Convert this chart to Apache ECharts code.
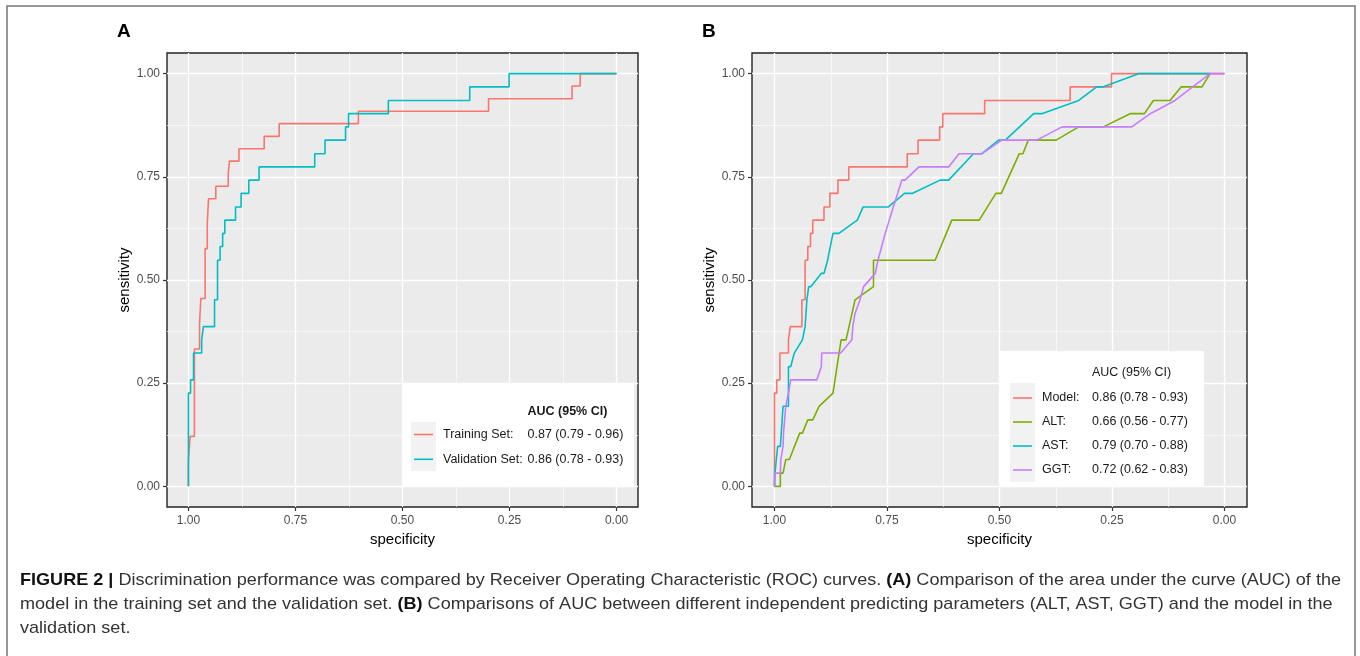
<!DOCTYPE html>
<html>
<head>
<meta charset="utf-8">
<script src="https://cdn.jsdelivr.net/npm/echarts@6/dist/echarts.min.js"></script>
<style>
  html, body { margin: 0; padding: 0; background: #fff; }
  #chart { width: 1360px; height: 656px; }
</style>
</head>
<body>
<div id="chart"></div>
<script>
// ticks shared by both panels
const tickValues = [0, 0.25, 0.5, 0.75, 1];
const minorValues = [0.125, 0.375, 0.625, 0.875];
const tickLabels = ['0.00', '0.25', '0.50', '0.75', '1.00'];

// panel A - training set
const trainSpec = [1, 1, 0.996, 0.996, 0.986, 0.986, 0.974, 0.974, 0.971, 0.971, 0.961, 0.961, 0.956, 0.956, 0.953, 0.953, 0.936, 0.936, 0.907, 0.907, 0.904, 0.904, 0.882, 0.882, 0.823, 0.823, 0.788, 0.788, 0.603, 0.603, 0.299, 0.299, 0.104, 0.104, 0.085, 0.085, 0];
const trainSens = [0, 0.061, 0.061, 0.121, 0.121, 0.333, 0.333, 0.394, 0.394, 0.455, 0.455, 0.576, 0.576, 0.636, 0.636, 0.697, 0.697, 0.727, 0.727, 0.758, 0.758, 0.788, 0.788, 0.818, 0.818, 0.848, 0.848, 0.879, 0.879, 0.909, 0.909, 0.939, 0.939, 0.970, 0.970, 1, 1];

// panel A - validation set (same curve is the "Model" line in panel B)
const validSpec = [1, 1, 0.995, 0.995, 0.988, 0.988, 0.969, 0.969, 0.965, 0.965, 0.939, 0.939, 0.932, 0.932, 0.926, 0.926, 0.920, 0.920, 0.915, 0.915, 0.890, 0.890, 0.877, 0.877, 0.859, 0.859, 0.835, 0.835, 0.705, 0.705, 0.681, 0.681, 0.633, 0.633, 0.626, 0.626, 0.533, 0.533, 0.343, 0.343, 0.251, 0.251, 0];
const validSens = [0, 0.226, 0.226, 0.258, 0.258, 0.323, 0.323, 0.355, 0.355, 0.387, 0.387, 0.452, 0.452, 0.548, 0.548, 0.581, 0.581, 0.613, 0.613, 0.645, 0.645, 0.677, 0.677, 0.710, 0.710, 0.742, 0.742, 0.774, 0.774, 0.806, 0.806, 0.839, 0.839, 0.871, 0.871, 0.903, 0.903, 0.935, 0.935, 0.968, 0.968, 1, 1];

// panel B - single markers
const altSpec = [1, 0.987, 0.987, 0.981, 0.975, 0.967, 0.944, 0.938, 0.926, 0.915, 0.901, 0.870, 0.852, 0.841, 0.821, 0.780, 0.780, 0.643, 0.606, 0.545, 0.508, 0.496, 0.456, 0.448, 0.436, 0.374, 0.324, 0.269, 0.210, 0.178, 0.158, 0.121, 0.096, 0.050, 0.032];
const altSens = [0, 0, 0.032, 0.032, 0.065, 0.065, 0.129, 0.129, 0.161, 0.161, 0.194, 0.226, 0.355, 0.355, 0.452, 0.484, 0.548, 0.548, 0.645, 0.645, 0.710, 0.710, 0.806, 0.806, 0.839, 0.839, 0.871, 0.871, 0.903, 0.903, 0.935, 0.935, 0.968, 0.968, 1];

const astSpec = [1, 0.999, 0.993, 0.987, 0.981, 0.969, 0.969, 0.964, 0.956, 0.938, 0.932, 0.928, 0.924, 0.919, 0.896, 0.890, 0.882, 0.870, 0.857, 0.816, 0.803, 0.747, 0.711, 0.693, 0.632, 0.613, 0.558, 0.539, 0.502, 0.487, 0.424, 0.406, 0.324, 0.284, 0.269, 0.191, 0.032];
const astSens = [0, 0.032, 0.097, 0.097, 0.194, 0.194, 0.290, 0.290, 0.323, 0.355, 0.387, 0.452, 0.484, 0.484, 0.516, 0.516, 0.548, 0.613, 0.613, 0.645, 0.677, 0.677, 0.710, 0.710, 0.742, 0.742, 0.806, 0.806, 0.839, 0.839, 0.903, 0.903, 0.935, 0.968, 0.968, 1, 1];

const ggtSpec = [1, 1, 0.987, 0.986, 0.981, 0.980, 0.976, 0.975, 0.969, 0.964, 0.906, 0.896, 0.895, 0.853, 0.828, 0.826, 0.821, 0.810, 0.802, 0.776, 0.770, 0.754, 0.736, 0.717, 0.710, 0.679, 0.613, 0.590, 0.539, 0.495, 0.417, 0.361, 0.206, 0.165, 0.110, 0.032, 0];
const ggtSens = [0, 0.032, 0.032, 0.065, 0.097, 0.129, 0.129, 0.194, 0.226, 0.258, 0.258, 0.290, 0.323, 0.323, 0.355, 0.387, 0.419, 0.452, 0.484, 0.516, 0.548, 0.613, 0.677, 0.742, 0.742, 0.774, 0.774, 0.806, 0.806, 0.839, 0.839, 0.871, 0.871, 0.903, 0.935, 1, 1];

// legend texts
const legendA = ['Training Set:', 'Validation Set:'];
const aucA = ['0.87 (0.79 - 0.96)', '0.86 (0.78 - 0.93)'];
const legendB = ['Model:', 'ALT:', 'AST:', 'GGT:'];
const aucB = ['0.86 (0.78 - 0.93)', '0.66 (0.56 - 0.77)', '0.79 (0.70 - 0.88)', '0.72 (0.62 - 0.83)'];

const colA = ['#F8766D', '#00BFC4'];
const colB = ['#F8766D', '#7CAE00', '#00BFC4', '#C77CFF'];

const caption = [
  '{b|FIGURE 2 |} Discrimination performance was compared by Receiver Operating Characteristic (ROC) curves. {b|(A)} Comparison of the area under the curve (AUC) of the',
  'model in the training set and the validation set. {b|(B)} Comparisons of AUC between different independent predicting parameters (ALT, AST, GGT) and the model in the',
  'validation set.'
];

const FONT = '"Liberation Sans", Arial, Helvetica, sans-serif';
const zip = (xs, ys) => xs.map((x, i) => [x, ys[i]]);
const fmt = v => {
  const i = tickValues.indexOf(Math.round(v * 1000) / 1000);
  return i >= 0 ? tickLabels[i] : '';
};

function majorAxis(grid, isX) {
  return {
    type: 'value', gridIndex: grid, min: -0.05, max: 1.05, inverse: isX,
    position: isX ? 'bottom' : 'left',
    name: isX ? 'specificity' : 'sensitivity',
    nameLocation: 'middle', nameGap: isX ? 23 : 35,
    nameTextStyle: { color: '#000', fontSize: 15, fontFamily: FONT },
    axisLine: { show: false, onZero: false },
    axisTick: { show: true, length: 4, customValues: tickValues, lineStyle: { color: '#333', width: 1.2 } },
    axisLabel: { customValues: tickValues, formatter: fmt, color: '#4d4d4d', fontSize: 12, fontFamily: FONT, margin: isX ? 8 : 7 },
    splitLine: { show: true, lineStyle: { color: '#fff', width: 1.3 } }
  };
}
function minorAxis(grid, isX) {
  return {
    type: 'value', gridIndex: grid, min: -0.05, max: 1.05, inverse: isX,
    position: isX ? 'top' : 'right',
    axisLine: { show: false, onZero: false },
    axisTick: { show: false, customValues: minorValues },
    axisLabel: { show: false, customValues: minorValues },
    splitLine: { show: true, lineStyle: { color: '#fff', width: 0.6 } }
  };
}

function line(name, data, color, xi) {
  return {
    name, type: 'line', data, xAxisIndex: xi, yAxisIndex: xi,
    symbol: 'none', color, lineStyle: { color, width: 1.6 }, z: 3
  };
}

// legend boxes (drawn as graphics, ggplot style inside the panel)
function legendBox(x, y, w, h, keyX, keyY, keyH, title, titleX, titleY, bold, names, vals, cols, rowY, labX, valX) {
  const Z = 100;
  const els = [
    { type: 'rect', z: Z, shape: { x, y, width: w, height: h }, style: { fill: '#fff' } },
    { type: 'rect', z: Z + 1, shape: { x: keyX, y: keyY, width: 25, height: keyH }, style: { fill: '#f2f2f2' } },
    { type: 'text', z: Z + 2, x: titleX, y: titleY, style: { text: title, fill: '#1a1a1a', font: (bold ? 'bold ' : '') + '12.5px ' + FONT, verticalAlign: 'middle' } }
  ];
  names.forEach((n, i) => {
    els.push({ type: 'line', z: Z + 2, shape: { x1: keyX + 3, y1: rowY[i], x2: keyX + 22, y2: rowY[i] }, style: { stroke: cols[i], lineWidth: 1.6 } });
    els.push({ type: 'text', z: Z + 2, x: labX, y: rowY[i], style: { text: n, fill: '#1a1a1a', font: '12.5px ' + FONT, verticalAlign: 'middle' } });
    els.push({ type: 'text', z: Z + 2, x: valX, y: rowY[i], style: { text: vals[i], fill: '#1a1a1a', font: '12.5px ' + FONT, verticalAlign: 'middle' } });
  });
  return els;
}

// caption: condensed look by scaling the text horizontally
const ctx = document.createElement('canvas').getContext('2d');
function measure(str) {
  let w = 0;
  str.split(/(\{b\|[^}]*\})/).forEach(part => {
    if (!part) return;
    const m = part.match(/^\{b\|([^}]*)\}$/);
    ctx.font = (m ? 'bold ' : '') + '17px "Liberation Sans"';
    w += ctx.measureText(m ? m[1] : part).width;
  });
  return w;
}
const capScale = 1321 / measure(caption[0]);
const captionEls = caption.map((t, i) => ({
  type: 'text', x: 20, y: 580 + i * 24, scaleX: capScale, originX: 0, z: 100,
  style: {
    text: t, fill: '#333', font: '17px "Liberation Sans"', verticalAlign: 'middle',
    rich: { b: { fontWeight: 'bold', fill: '#111', fontSize: 17, fontFamily: 'Liberation Sans' } }
  }
}));

const chart = echarts.init(document.getElementById('chart'), null, { renderer: 'canvas' });
chart.setOption({
  animation: false,
  backgroundColor: '#fff',
  textStyle: { fontFamily: FONT },
  grid: [
    { left: 167, top: 53, width: 471, height: 454, show: true, backgroundColor: '#ebebeb', borderColor: '#222', borderWidth: 1.4 },
    { left: 752, top: 53, width: 495, height: 454, show: true, backgroundColor: '#ebebeb', borderColor: '#222', borderWidth: 1.4 }
  ],
  xAxis: [majorAxis(0, true), minorAxis(0, true), majorAxis(1, true), minorAxis(1, true)],
  yAxis: [majorAxis(0, false), minorAxis(0, false), majorAxis(1, false), minorAxis(1, false)],
  series: [
    line('Training Set', zip(trainSpec, trainSens), colA[0], 0),
    line('Validation Set', zip(validSpec, validSens), colA[1], 0),
    line('Model', zip(validSpec, validSens), colB[0], 2),
    line('ALT', zip(altSpec, altSens), colB[1], 2),
    line('AST', zip(astSpec, astSens), colB[2], 2),
    line('GGT', zip(ggtSpec, ggtSens), colB[3], 2)
  ],
  graphic: [
    { type: 'rect', z: 0, shape: { x: 7, y: 6, width: 1348, height: 700 }, style: { fill: null, stroke: '#777', lineWidth: 1.5 } },
    { type: 'text', z: 100, x: 117, y: 32, style: { text: 'A', font: 'bold 19px ' + FONT, fill: '#000', verticalAlign: 'middle' } },
    { type: 'text', z: 100, x: 702, y: 32, style: { text: 'B', font: 'bold 19px ' + FONT, fill: '#000', verticalAlign: 'middle' } },
    ...legendBox(402, 384, 232, 103, 411, 422, 49, 'AUC (95% CI)', 527.5, 412, true,
      legendA, aucA, colA, [434.5, 459.3], 443, 527.5),
    ...legendBox(999, 351, 205, 136, 1010, 383, 99, 'AUC (95% CI)', 1092, 372.5, false,
      legendB, aucB, colB, [398, 422, 446, 470], 1042, 1092),
    ...captionEls
  ]
});
</script>
</body>
</html>
